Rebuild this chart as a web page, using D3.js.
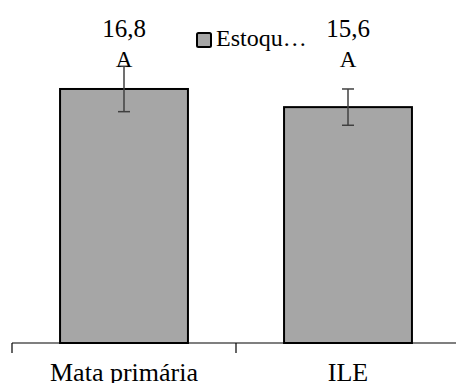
<!DOCTYPE html>
<html>
<head>
<meta charset="utf-8">
<script src="https://cdn.jsdelivr.net/npm/d3@7"></script>
</head>
<body style="margin:0">
<script>
// chart data
const categories = ["Mata primária", "ILE"];
const values = [16.8, 15.6];
const errors = [1.5, 1.2];
const valueLabels = ["16,8", "15,6"];
const letters = ["A", "A"];
const seriesName = "Estoqu…";

const width = 456,
  height = 383;
const fam = "Liberation Serif";

const svg = d3.select("body").append("svg")
  .attr("width", width)
  .attr("height", height);

const x = d3.scaleBand()
  .domain(categories)
  .range([12, 460])
  .padding(0);

const y = d3.scaleLinear()
  .domain([0, 20])
  .range([343, 40.6]);

const barW = x.bandwidth() * 0.571;

// bars
svg.selectAll(".bar")
  .data(values)
  .join("rect")
    .attr("class", "bar")
    .attr("x", (d, i) => x(categories[i]) + x.bandwidth() / 2 - barW / 2)
    .attr("y", d => y(d))
    .attr("width", barW)
    .attr("height", d => y(0) - y(d))
    .attr("fill", "#a6a6a6")
    .attr("stroke", "#000")
    .attr("stroke-width", 2);

// error bars
const err = svg.selectAll(".err")
  .data(values)
  .join("g")
    .attr("class", "err")
    .attr("stroke", "#404040")
    .attr("stroke-width", 1.5);

err.append("line")
  .attr("x1", (d, i) => x(categories[i]) + x.bandwidth() / 2)
  .attr("x2", (d, i) => x(categories[i]) + x.bandwidth() / 2)
  .attr("y1", (d, i) => y(d + errors[i]))
  .attr("y2", (d, i) => y(d - errors[i]));

[1, -1].forEach(function(s) {
  err.append("line")
    .attr("x1", (d, i) => x(categories[i]) + x.bandwidth() / 2 - 6)
    .attr("x2", (d, i) => x(categories[i]) + x.bandwidth() / 2 + 6)
    .attr("y1", (d, i) => y(d + s * errors[i]))
    .attr("y2", (d, i) => y(d + s * errors[i]));
});

// x axis line with category separators
const sepX = [12, 236, 460];
svg.append("line")
  .attr("x1", x.range()[0]).attr("x2", x.range()[1])
  .attr("y1", y(0)).attr("y2", y(0))
  .attr("stroke", "#000").attr("stroke-width", 1.2);
svg.selectAll(".sep")
  .data(sepX)
  .join("line")
    .attr("class", "sep")
    .attr("x1", d => d).attr("x2", d => d)
    .attr("y1", y(0)).attr("y2", y(0) + 10)
    .attr("stroke", "#000").attr("stroke-width", 1.2);

svg.selectAll(".cat")
  .data(categories)
  .join("text")
    .attr("class", "cat")
    .attr("x", d => x(d) + x.bandwidth() / 2)
    .attr("y", 381)
    .attr("text-anchor", "middle")
    .attr("font-size", 26)
    .style("font-family", `"${fam}"`)
    .text(d => d);

// value labels
svg.selectAll(".val")
  .data(valueLabels)
  .join("text")
    .attr("class", "val")
    .attr("x", (d, i) => x(categories[i]) + x.bandwidth() / 2)
    .attr("y", 37)
    .attr("text-anchor", "middle")
    .attr("font-size", 25)
    .style("font-family", `"${fam}"`)
    .text(d => d);

svg.selectAll(".let")
  .data(letters)
  .join("text")
    .attr("class", "let")
    .attr("x", (d, i) => x(categories[i]) + x.bandwidth() / 2)
    .attr("y", 67)
    .attr("text-anchor", "middle")
    .attr("font-size", 23)
    .style("font-family", `"${fam}"`)
    .text(d => d);

// legend
const legend = svg.append("g").attr("transform", "translate(197,33)");
legend.append("rect")
  .attr("width", 14).attr("height", 14).attr("rx", 1.5)
  .attr("fill", "#a6a6a6")
  .attr("stroke", "#000").attr("stroke-width", 2);
legend.append("text")
  .attr("x", 19).attr("y", 13)
  .attr("font-size", 24)
  .style("font-family", `"${fam}"`)
  .text(seriesName);
</script>
</body>
</html>
